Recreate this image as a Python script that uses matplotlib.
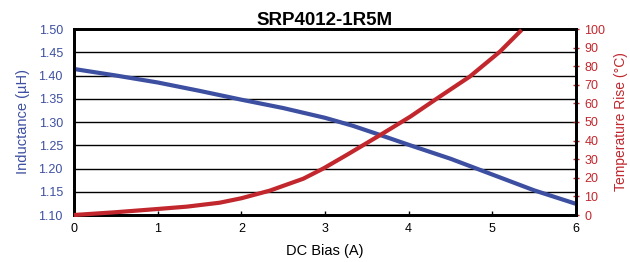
import matplotlib
matplotlib.use("Agg")
import matplotlib.pyplot as plt
from matplotlib import font_manager

# data
bias_l = [0, 0.5, 1, 1.5, 2, 2.5, 3, 3.33, 3.66, 4, 4.5, 5, 5.5, 6]
inductance = [1.414, 1.400, 1.385, 1.367, 1.348, 1.330, 1.309, 1.292, 1.272,
              1.251, 1.221, 1.187, 1.153, 1.124]

bias_t = [0, 0.47, 0.99, 1.35, 1.74, 2.0, 2.34, 2.74, 2.98, 3.26, 3.66,
          4.02, 4.37, 4.73, 5.09, 5.35]
temp_rise = [0, 1.4, 3.2, 4.5, 6.6, 9.0, 13.1, 19.5, 25, 32.3, 43,
             52.9, 63.6, 74.4, 87.8, 99.5]

l_ticks = [1.10, 1.15, 1.20, 1.25, 1.30, 1.35, 1.40, 1.45, 1.50]
t_ticks = list(range(0, 101, 10))
x_ticks = [0, 1, 2, 3, 4, 5, 6]

blue = "#3d4fa1"
red = "#c1272d"

names = {f.name for f in font_manager.fontManager.ttflist}
font = "Liberation Sans Narrow" if "Liberation Sans Narrow" in names else "Liberation Sans"
plt.rcParams["font.family"] = [font, "DejaVu Sans"]

fig = plt.figure(figsize=(6.3, 2.62), dpi=100)
ax = fig.add_axes([74 / 630, 47 / 262, 502 / 630, 186 / 262])

ax.plot(bias_l, inductance, color=blue, lw=3, solid_capstyle="butt",
        solid_joinstyle="round", zorder=3, clip_on=False)
ax.set_xlim(0, 6)
ax.set_ylim(1.10, 1.50)
ax.set_yticks(l_ticks)
ax.set_yticklabels([f"{v:.2f}" for v in l_ticks], color=blue, fontsize=9)
ax.set_xticks(x_ticks)
ax.set_xticklabels([str(v) for v in x_ticks], fontsize=9)
ax.tick_params(axis="y", length=0, pad=8)
ax.tick_params(axis="x", direction="in", length=3, width=1, pad=6)
ax.grid(axis="y", color="black", lw=1)
for s in ax.spines.values():
    s.set_linewidth(2)
ax.set_ylabel("Inductance (\u00b5H)", color=blue, fontsize=10.5, labelpad=6)
ax.set_xlabel("DC Bias (A)", fontsize=10.5, labelpad=6)
ax.set_title("SRP4012-1R5M", fontsize=13.5, fontweight="bold", pad=3)

ax2 = ax.twinx()
ax2.plot(bias_t, temp_rise, color=red, lw=3, solid_capstyle="butt",
         solid_joinstyle="round", zorder=3, clip_on=False)
ax2.set_ylim(0, 100)
ax2.set_yticks(t_ticks)
ax2.set_yticklabels([str(v) for v in t_ticks], color=red, fontsize=9)
ax2.tick_params(axis="y", direction="inout", length=4, width=1, color=red, pad=4)
for s in ax2.spines.values():
    s.set_linewidth(2)
ax2.set_ylabel("Temperature Rise (\u00b0C)", color=red, fontsize=10, labelpad=6)

fig.savefig("out.png", dpi=100)
